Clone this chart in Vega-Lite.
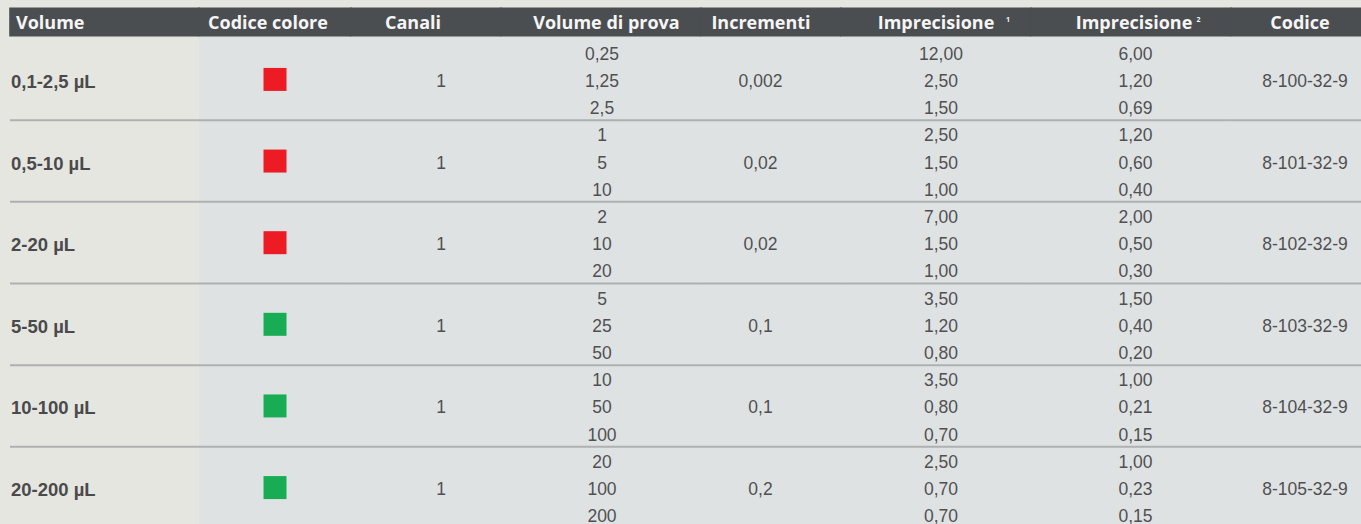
{
  "$schema": "https://vega.github.io/schema/vega-lite/v6.json",
  "background": "#e6e6e1",
  "padding": {"left": 9, "top": 7.4, "right": 0, "bottom": 0},
  "spacing": 0,
  "bounds": "flush",
  "config": {
    "view": {"stroke": null},
    "text": {"font": "Liberation Sans", "fontSize": 17.5, "color": "#505052", "baseline": "middle"}
  },
  "datasets": {
    "groups": [
      {"g": 1, "label": "0,1-2,5 µL", "colore": "rosso", "canali": "1", "incr": "0,002", "codice": "8-100-32-9", "mid": 2},
      {"g": 2, "label": "0,5-10 µL", "colore": "rosso", "canali": "1", "incr": "0,02", "codice": "8-101-32-9", "mid": 5},
      {"g": 3, "label": "2-20 µL", "colore": "rosso", "canali": "1", "incr": "0,02", "codice": "8-102-32-9", "mid": 8},
      {"g": 4, "label": "5-50 µL", "colore": "verde", "canali": "1", "incr": "0,1", "codice": "8-103-32-9", "mid": 11},
      {"g": 5, "label": "10-100 µL", "colore": "verde", "canali": "1", "incr": "0,1", "codice": "8-104-32-9", "mid": 14},
      {"g": 6, "label": "20-200 µL", "colore": "verde", "canali": "1", "incr": "0,2", "codice": "8-105-32-9", "mid": 17}
    ],
    "lines": [
      {"line": 1, "sub": 1, "vp": "0,25", "imp1": "12,00", "imp2": "6,00"},
      {"line": 2, "sub": 2, "vp": "1,25", "imp1": "2,50", "imp2": "1,20"},
      {"line": 3, "sub": 3, "vp": "2,5", "imp1": "1,50", "imp2": "0,69"},
      {"line": 4, "sub": 1, "vp": "1", "imp1": "2,50", "imp2": "1,20"},
      {"line": 5, "sub": 2, "vp": "5", "imp1": "1,50", "imp2": "0,60"},
      {"line": 6, "sub": 3, "vp": "10", "imp1": "1,00", "imp2": "0,40"},
      {"line": 7, "sub": 1, "vp": "2", "imp1": "7,00", "imp2": "2,00"},
      {"line": 8, "sub": 2, "vp": "10", "imp1": "1,50", "imp2": "0,50"},
      {"line": 9, "sub": 3, "vp": "20", "imp1": "1,00", "imp2": "0,30"},
      {"line": 10, "sub": 1, "vp": "5", "imp1": "3,50", "imp2": "1,50"},
      {"line": 11, "sub": 2, "vp": "25", "imp1": "1,20", "imp2": "0,40"},
      {"line": 12, "sub": 3, "vp": "50", "imp1": "0,80", "imp2": "0,20"},
      {"line": 13, "sub": 1, "vp": "10", "imp1": "3,50", "imp2": "1,00"},
      {"line": 14, "sub": 2, "vp": "50", "imp1": "0,80", "imp2": "0,21"},
      {"line": 15, "sub": 3, "vp": "100", "imp1": "0,70", "imp2": "0,15"},
      {"line": 16, "sub": 1, "vp": "20", "imp1": "2,50", "imp2": "1,00"},
      {"line": 17, "sub": 2, "vp": "100", "imp1": "0,70", "imp2": "0,23"},
      {"line": 18, "sub": 3, "vp": "200", "imp1": "0,70", "imp2": "0,15"}
    ],
    "one": [{}]
  },
  "hconcat": [
    {
      "width": 189, "height": 517,
      "layer": [
        {"data": {"name": "lines"}, "transform": [{"filter": "datum.sub == 1 && datum.line > 1"}],
         "mark": {"type": "rule", "color": "#aeb0b1", "strokeWidth": 2},
         "encoding": {"y": {"field": "line", "type": "ordinal", "bandPosition": 0, "scale": {"type": "band", "domain": [0,1,2,3,4,5,6,7,8,9,10,11,12,13,14,15,16,17,18], "paddingInner": 0, "paddingOuter": 0}, "axis": null}}},
        {"data": {"name": "one"}, "mark": {"type": "rect", "color": "#4b4e51", "stroke": "#4b4e51", "strokeWidth": 1.6, "yOffset": -3},
         "encoding": {"y": {"datum": 0, "type": "ordinal", "axis": null}}},
        {"data": {"name": "one"}, "mark": {"type": "text", "font": "Open Sans", "fontWeight": "bold", "fontSize": 18, "color": "#f5f5f5", "align": "left", "dx": -88.5, "dy": -1.5},
         "encoding": {"y": {"datum": 0, "type": "ordinal", "axis": null}, "text": {"value": "Volume"}}},
        {"data": {"name": "groups"}, "mark": {"type": "text", "fontWeight": "bold", "fontSize": 18.5, "color": "#4a4a4c", "align": "left", "dx": -93.5, "dy": 2.5},
         "encoding": {"y": {"field": "mid", "type": "ordinal", "axis": null}, "text": {"field": "label"}}}
      ]
    },
    {
      "width": 152, "height": 517,
      "layer": [
        {"data": {"name": "one"}, "mark": {"type": "rect", "color": "#dfe2e3"}, "encoding": {}},
        {"data": {"name": "lines"}, "transform": [{"filter": "datum.sub == 1 && datum.line > 1"}],
         "mark": {"type": "rule", "color": "#aeb0b1", "strokeWidth": 2},
         "encoding": {"y": {"field": "line", "type": "ordinal", "bandPosition": 0, "scale": {"type": "band", "domain": [0,1,2,3,4,5,6,7,8,9,10,11,12,13,14,15,16,17,18], "paddingInner": 0, "paddingOuter": 0}, "axis": null}}},
        {"data": {"name": "one"}, "mark": {"type": "rect", "color": "#4b4e51", "stroke": "#4b4e51", "strokeWidth": 1.6, "yOffset": -3},
         "encoding": {"y": {"datum": 0, "type": "ordinal", "axis": null}}},
        {"data": {"name": "one"}, "mark": {"type": "text", "font": "Open Sans", "fontWeight": "bold", "fontSize": 18, "color": "#f5f5f5", "dx": -7, "dy": -1.5},
         "encoding": {"y": {"datum": 0, "type": "ordinal", "axis": null}, "text": {"value": "Codice colore"}}},
        {"data": {"name": "groups"}, "mark": {"type": "square", "size": 529, "filled": true, "opacity": 1, "xOffset": 0, "yOffset": 0},
         "encoding": {"y": {"field": "mid", "type": "ordinal", "axis": null},
                      "color": {"field": "colore", "type": "nominal", "scale": {"domain": ["rosso", "verde"], "range": ["#ed1c24", "#18ad55"]}, "legend": null}}}
      ]
    },
    {
      "width": 150, "height": 517,
      "layer": [
        {"data": {"name": "one"}, "mark": {"type": "rect", "color": "#dfe2e3"}, "encoding": {}},
        {"data": {"name": "lines"}, "transform": [{"filter": "datum.sub == 1 && datum.line > 1"}],
         "mark": {"type": "rule", "color": "#aeb0b1", "strokeWidth": 2},
         "encoding": {"y": {"field": "line", "type": "ordinal", "bandPosition": 0, "scale": {"type": "band", "domain": [0,1,2,3,4,5,6,7,8,9,10,11,12,13,14,15,16,17,18], "paddingInner": 0, "paddingOuter": 0}, "axis": null}}},
        {"data": {"name": "one"}, "mark": {"type": "rect", "color": "#4b4e51", "stroke": "#4b4e51", "strokeWidth": 1.6, "yOffset": -3},
         "encoding": {"y": {"datum": 0, "type": "ordinal", "axis": null}}},
        {"data": {"name": "one"}, "mark": {"type": "text", "font": "Open Sans", "fontWeight": "bold", "fontSize": 18, "color": "#f5f5f5", "dx": -13, "dy": -1.5},
         "encoding": {"y": {"datum": 0, "type": "ordinal", "axis": null}, "text": {"value": "Canali"}}},
        {"data": {"name": "groups"}, "mark": {"type": "text", "dx": 15, "dy": 2.5},
         "encoding": {"y": {"field": "mid", "type": "ordinal", "axis": null}, "text": {"field": "canali"}}}
      ]
    },
    {
      "width": 200, "height": 517,
      "layer": [
        {"data": {"name": "one"}, "mark": {"type": "rect", "color": "#dfe2e3"}, "encoding": {}},
        {"data": {"name": "lines"}, "transform": [{"filter": "datum.sub == 1 && datum.line > 1"}],
         "mark": {"type": "rule", "color": "#aeb0b1", "strokeWidth": 2},
         "encoding": {"y": {"field": "line", "type": "ordinal", "bandPosition": 0, "scale": {"type": "band", "domain": [0,1,2,3,4,5,6,7,8,9,10,11,12,13,14,15,16,17,18], "paddingInner": 0, "paddingOuter": 0}, "axis": null}}},
        {"data": {"name": "one"}, "mark": {"type": "rect", "color": "#4b4e51", "stroke": "#4b4e51", "strokeWidth": 1.6, "yOffset": -3},
         "encoding": {"y": {"datum": 0, "type": "ordinal", "axis": null}}},
        {"data": {"name": "one"}, "mark": {"type": "text", "font": "Open Sans", "fontWeight": "bold", "fontSize": 18, "color": "#f5f5f5", "dx": 5.5, "dy": -1.5},
         "encoding": {"y": {"datum": 0, "type": "ordinal", "axis": null}, "text": {"value": "Volume di prova"}}},
        {"data": {"name": "lines"}, "mark": {"type": "text", "dx": 1, "dy": 2.5},
         "encoding": {"y": {"field": "line", "type": "ordinal", "axis": null}, "text": {"field": "vp"}}}
      ]
    },
    {
      "width": 140, "height": 517,
      "layer": [
        {"data": {"name": "one"}, "mark": {"type": "rect", "color": "#dfe2e3"}, "encoding": {}},
        {"data": {"name": "lines"}, "transform": [{"filter": "datum.sub == 1 && datum.line > 1"}],
         "mark": {"type": "rule", "color": "#aeb0b1", "strokeWidth": 2},
         "encoding": {"y": {"field": "line", "type": "ordinal", "bandPosition": 0, "scale": {"type": "band", "domain": [0,1,2,3,4,5,6,7,8,9,10,11,12,13,14,15,16,17,18], "paddingInner": 0, "paddingOuter": 0}, "axis": null}}},
        {"data": {"name": "one"}, "mark": {"type": "rect", "color": "#4b4e51", "stroke": "#4b4e51", "strokeWidth": 1.6, "yOffset": -3},
         "encoding": {"y": {"datum": 0, "type": "ordinal", "axis": null}}},
        {"data": {"name": "one"}, "mark": {"type": "text", "font": "Open Sans", "fontWeight": "bold", "fontSize": 18, "color": "#f5f5f5", "dx": -10, "dy": -1.5},
         "encoding": {"y": {"datum": 0, "type": "ordinal", "axis": null}, "text": {"value": "Incrementi"}}},
        {"data": {"name": "groups"}, "mark": {"type": "text", "dx": -10.5, "dy": 2.5},
         "encoding": {"y": {"field": "mid", "type": "ordinal", "axis": null}, "text": {"field": "incr"}}}
      ]
    },
    {
      "width": 190, "height": 517,
      "layer": [
        {"data": {"name": "one"}, "mark": {"type": "rect", "color": "#dfe2e3"}, "encoding": {}},
        {"data": {"name": "lines"}, "transform": [{"filter": "datum.sub == 1 && datum.line > 1"}],
         "mark": {"type": "rule", "color": "#aeb0b1", "strokeWidth": 2},
         "encoding": {"y": {"field": "line", "type": "ordinal", "bandPosition": 0, "scale": {"type": "band", "domain": [0,1,2,3,4,5,6,7,8,9,10,11,12,13,14,15,16,17,18], "paddingInner": 0, "paddingOuter": 0}, "axis": null}}},
        {"data": {"name": "one"}, "mark": {"type": "rect", "color": "#4b4e51", "stroke": "#4b4e51", "strokeWidth": 1.6, "yOffset": -3},
         "encoding": {"y": {"datum": 0, "type": "ordinal", "axis": null}}},
        {"data": {"name": "one"}, "mark": {"type": "text", "font": "Open Sans", "fontWeight": "bold", "fontSize": 18, "color": "#f5f5f5", "dx": 0, "dy": -1.5},
         "encoding": {"y": {"datum": 0, "type": "ordinal", "axis": null}, "text": {"value": "Imprecisione"}}},
        {"data": {"name": "one"}, "mark": {"type": "text", "font": "Open Sans", "fontWeight": "bold", "fontSize": 7, "color": "#f5f5f5", "dx": 72, "dy": -5.5},
         "encoding": {"y": {"datum": 0, "type": "ordinal", "axis": null}, "text": {"value": "1"}}},
        {"data": {"name": "lines"}, "mark": {"type": "text", "dx": 5, "dy": 2.5},
         "encoding": {"y": {"field": "line", "type": "ordinal", "axis": null}, "text": {"field": "imp1"}}}
      ]
    },
    {
      "width": 200, "height": 517,
      "layer": [
        {"data": {"name": "one"}, "mark": {"type": "rect", "color": "#dfe2e3"}, "encoding": {}},
        {"data": {"name": "lines"}, "transform": [{"filter": "datum.sub == 1 && datum.line > 1"}],
         "mark": {"type": "rule", "color": "#aeb0b1", "strokeWidth": 2},
         "encoding": {"y": {"field": "line", "type": "ordinal", "bandPosition": 0, "scale": {"type": "band", "domain": [0,1,2,3,4,5,6,7,8,9,10,11,12,13,14,15,16,17,18], "paddingInner": 0, "paddingOuter": 0}, "axis": null}}},
        {"data": {"name": "one"}, "mark": {"type": "rect", "color": "#4b4e51", "stroke": "#4b4e51", "strokeWidth": 1.6, "yOffset": -3},
         "encoding": {"y": {"datum": 0, "type": "ordinal", "axis": null}}},
        {"data": {"name": "one"}, "mark": {"type": "text", "font": "Open Sans", "fontWeight": "bold", "fontSize": 18, "color": "#f5f5f5", "dx": 3, "dy": -1.5},
         "encoding": {"y": {"datum": 0, "type": "ordinal", "axis": null}, "text": {"value": "Imprecisione"}}},
        {"data": {"name": "one"}, "mark": {"type": "text", "font": "Open Sans", "fontWeight": "bold", "fontSize": 7, "color": "#f5f5f5", "dx": 67.5, "dy": -5.5},
         "encoding": {"y": {"datum": 0, "type": "ordinal", "axis": null}, "text": {"value": "2"}}},
        {"data": {"name": "lines"}, "mark": {"type": "text", "dx": 4.5, "dy": 2.5},
         "encoding": {"y": {"field": "line", "type": "ordinal", "axis": null}, "text": {"field": "imp2"}}}
      ]
    },
    {
      "width": 131, "height": 517,
      "layer": [
        {"data": {"name": "one"}, "mark": {"type": "rect", "color": "#dfe2e3"}, "encoding": {}},
        {"data": {"name": "lines"}, "transform": [{"filter": "datum.sub == 1 && datum.line > 1"}],
         "mark": {"type": "rule", "color": "#aeb0b1", "strokeWidth": 2},
         "encoding": {"y": {"field": "line", "type": "ordinal", "bandPosition": 0, "scale": {"type": "band", "domain": [0,1,2,3,4,5,6,7,8,9,10,11,12,13,14,15,16,17,18], "paddingInner": 0, "paddingOuter": 0}, "axis": null}}},
        {"data": {"name": "one"}, "mark": {"type": "rect", "color": "#4b4e51", "stroke": "#4b4e51", "strokeWidth": 1.6, "yOffset": -3},
         "encoding": {"y": {"datum": 0, "type": "ordinal", "axis": null}}},
        {"data": {"name": "one"}, "mark": {"type": "text", "font": "Open Sans", "fontWeight": "bold", "fontSize": 18, "color": "#f5f5f5", "dx": 3.5, "dy": -1.5},
         "encoding": {"y": {"datum": 0, "type": "ordinal", "axis": null}, "text": {"value": "Codice"}}},
        {"data": {"name": "groups"}, "mark": {"type": "text", "dx": 8.5, "dy": 2.5},
         "encoding": {"y": {"field": "mid", "type": "ordinal", "axis": null}, "text": {"field": "codice"}}}
      ]
    }
  ]
}
